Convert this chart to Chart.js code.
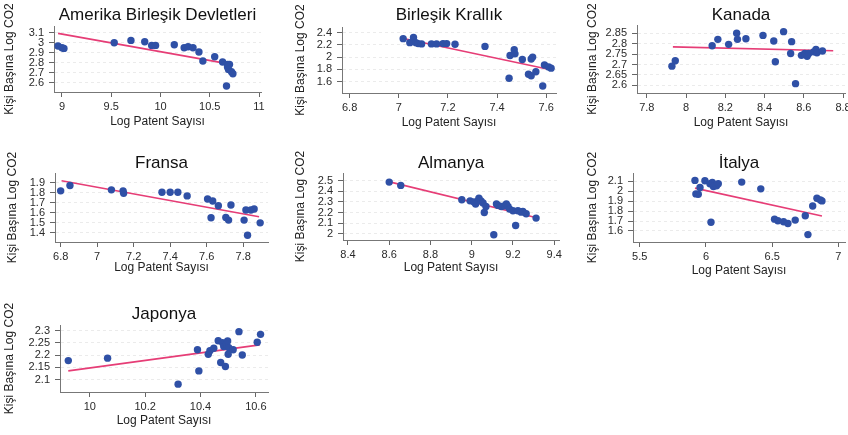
<!DOCTYPE html>
<html lang="tr">
<head>
<meta charset="utf-8">
<title>Log Patent Sayısı ve Kişi Başına Log CO2</title>
<script src="https://cdn.jsdelivr.net/npm/chart.js@4.4.1/dist/chart.umd.min.js"></script>
<style>
  html, body { margin: 0; padding: 0; background: #fff; }
  #wrap { position: relative; width: 848px; height: 435px; overflow: hidden; background: #fff; }
  #wrap canvas { position: absolute; }
</style>
</head>
<body>
<div id="wrap"></div>
<script>
// Values
const xTitle = 'Log Patent Sayısı';
const yTitle = 'Kişi Başına Log CO2';

// Amerika Birleşik Devletleri
const usaX = [8.96, 9.0, 9.02, 9.53, 9.70, 9.84, 9.91, 9.95, 10.14, 10.24, 10.28, 10.33, 10.39, 10.43, 10.55, 10.63, 10.68, 10.70, 10.68, 10.69, 10.72, 10.735, 10.67];
const usaY = [2.967, 2.95, 2.943, 3.0, 3.023, 3.01, 2.973, 2.973, 2.98, 2.95, 2.96, 2.95, 2.907, 2.817, 2.86, 2.807, 2.783, 2.783, 2.757, 2.733, 2.71, 2.69, 2.567];
const usaFitX = [8.96, 10.72];
const usaFitY = [3.093, 2.783];
const usaXTicks = [9, 9.5, 10, 10.5, 11];
const usaYTicks = [2.6, 2.7, 2.8, 2.9, 3, 3.1];

// Birleşik Krallık
const ukX = [7.018, 7.045, 7.06, 7.07, 7.079, 7.093, 7.133, 7.154, 7.18, 7.195, 7.229, 7.351, 7.449, 7.453, 7.47, 7.473, 7.503, 7.528, 7.539, 7.539, 7.545, 7.558, 7.586, 7.593, 7.61, 7.62];
const ukY = [2.30, 2.235, 2.32, 2.235, 2.22, 2.215, 2.215, 2.215, 2.22, 2.22, 2.21, 2.174, 1.656, 2.025, 2.12, 2.053, 1.96, 1.72, 1.695, 1.97, 2.0, 1.76, 1.53, 1.87, 1.84, 1.82];
const ukFitX = [7.01, 7.623];
const ukFitY = [2.31, 1.79];
const ukXTicks = [6.8, 7, 7.2, 7.4, 7.6];
const ukYTicks = [1.6, 1.8, 2, 2.2, 2.4];

// Kanada
const canX = [7.928, 7.945, 8.133, 8.162, 8.217, 8.258, 8.262, 8.305, 8.392, 8.447, 8.455, 8.497, 8.538, 8.533, 8.558, 8.588, 8.605, 8.617, 8.625, 8.65, 8.662, 8.667, 8.695];
const canY = [2.692, 2.718, 2.79, 2.821, 2.797, 2.85, 2.821, 2.824, 2.84, 2.813, 2.713, 2.858, 2.81, 2.753, 2.608, 2.744, 2.753, 2.74, 2.753, 2.761, 2.773, 2.756, 2.765];
const canFitX = [7.933, 8.75];
const canFitY = [2.785, 2.766];
const canXTicks = [7.8, 8, 8.2, 8.4, 8.6, 8.8];
const canYTicks = [2.6, 2.65, 2.7, 2.75, 2.8, 2.85];

// Fransa
const fraX = [6.80, 6.851, 7.078, 7.142, 7.145, 7.355, 7.40, 7.442, 7.493, 7.605, 7.633, 7.624, 7.664, 7.705, 7.72, 7.733, 7.805, 7.815, 7.824, 7.842, 7.86, 7.893];
const fraY = [1.817, 1.87, 1.827, 1.817, 1.793, 1.803, 1.803, 1.803, 1.767, 1.737, 1.717, 1.55, 1.67, 1.553, 1.527, 1.677, 1.527, 1.627, 1.377, 1.627, 1.637, 1.50];
const fraFitX = [6.805, 7.887];
const fraFitY = [1.917, 1.56];
const fraXTicks = [6.8, 7, 7.2, 7.4, 7.6, 7.8];
const fraYTicks = [1.4, 1.5, 1.6, 1.7, 1.8, 1.9];

// Almanya
const deuX = [8.6, 8.656, 8.952, 8.992, 9.011, 9.019, 9.032, 9.035, 9.045, 9.055, 9.061, 9.069, 9.107, 9.12, 9.128, 9.144, 9.16, 9.168, 9.176, 9.184, 9.2, 9.213, 9.224, 9.24, 9.248, 9.264, 9.312];
const deuY = [2.487, 2.456, 2.32, 2.31, 2.30, 2.28, 2.314, 2.336, 2.31, 2.29, 2.2, 2.257, 1.989, 2.28, 2.267, 2.257, 2.263, 2.28, 2.257, 2.232, 2.216, 2.077, 2.216, 2.203, 2.21, 2.188, 2.147];
const deuFitX = [8.592, 9.32];
const deuFitY = [2.494, 2.147];
const deuXTicks = [8.4, 8.6, 8.8, 9, 9.2, 9.4];
const deuYTicks = [2, 2.1, 2.2, 2.3, 2.4, 2.5];

// İtalya
const itaX = [5.917, 5.924, 5.942, 5.955, 5.992, 6.03, 6.038, 6.048, 6.056, 6.08, 6.093, 6.27, 6.414, 6.518, 6.543, 6.586, 6.619, 6.674, 6.75, 6.77, 6.806, 6.838, 6.864, 6.876];
const itaY = [2.11, 1.974, 1.97, 2.039, 2.107, 2.076, 1.688, 2.09, 2.049, 2.056, 2.076, 2.093, 2.025, 1.719, 1.702, 1.692, 1.675, 1.709, 1.753, 1.563, 1.852, 1.93, 1.913, 1.903];
const itaFitX = [5.917, 6.876];
const itaFitY = [2.032, 1.75];
const itaXTicks = [5.5, 6, 6.5, 7];
const itaYTicks = [1.6, 1.7, 1.8, 1.9, 2, 2.1];

// Japonya
const jpnX = [9.922, 10.064, 10.319, 10.389, 10.394, 10.428, 10.434, 10.448, 10.464, 10.473, 10.48, 10.484, 10.49, 10.494, 10.498, 10.502, 10.5, 10.518, 10.539, 10.551, 10.605, 10.617];
const jpnY = [2.178, 2.188, 2.082, 2.222, 2.136, 2.204, 2.218, 2.228, 2.259, 2.17, 2.251, 2.235, 2.154, 2.245, 2.258, 2.231, 2.204, 2.222, 2.296, 2.201, 2.253, 2.285];
const jpnFitX = [9.922, 10.614];
const jpnFitY = [2.136, 2.242];
const jpnXTicks = [10, 10.2, 10.4, 10.6];
const jpnYTicks = [2.1, 2.15, 2.2, 2.25, 2.3];

const FONT = '"Liberation Sans", Arial, sans-serif';
const DOT = '#2f50a6';
const FIT = '#e63d76';

// panel boxes: canvas offset/size, plot edges, title / axis-title centres (page pixels)
const panels = [
  { title: 'Amerika Birleşik Devletleri', xs: usaX, ys: usaY, fx: usaFitX, fy: usaFitY, xt: usaXTicks, yt: usaYTicks,
    xr: [8.919, 11.02], yr: [2.507, 3.167], ox: 0, oy: 0, w: 283, h: 140, L: 54, T: 26, R: 261, B: 92, ty: 15, xty: 122, ytx: 10 },
  { title: 'Birleşik Krallık', xs: ukX, ys: ukY, fx: ukFitX, fy: ukFitY, xt: ukXTicks, yt: ukYTicks,
    xr: [6.769, 7.64], yr: [1.415, 2.49], ox: 283, oy: 0, w: 282, h: 140, L: 342, T: 27, R: 556, B: 93, ty: 15, xty: 123, ytx: 301 },
  { title: 'Kanada', xs: canX, ys: canY, fx: canFitX, fy: canFitY, xt: canXTicks, yt: canYTicks,
    xr: [7.75, 8.81], yr: [2.563, 2.89], ox: 565, oy: 0, w: 300, h: 140, L: 637, T: 25, R: 845, B: 93, ty: 15, xty: 123, ytx: 593 },
  { title: 'Fransa', xs: fraX, ys: fraY, fx: fraFitX, fy: fraFitY, xt: fraXTicks, yt: fraYTicks,
    xr: [6.769, 7.936], yr: [1.31, 1.994], ox: 0, oy: 140, w: 283, h: 145, L: 55, T: 173, R: 268, B: 242, ty: 163, xty: 268, ytx: 13 },
  { title: 'Almanya', xs: deuX, ys: deuY, fx: deuFitX, fy: deuFitY, xt: deuXTicks, yt: deuYTicks,
    xr: [8.376, 9.424], yr: [1.94, 2.573], ox: 283, oy: 140, w: 282, h: 145, L: 343, T: 173, R: 562, B: 240, ty: 163, xty: 268, ytx: 301 },
  { title: 'İtalya', xs: itaX, ys: itaY, fx: itaFitX, fy: itaFitY, xt: itaXTicks, yt: itaYTicks,
    xr: [5.449, 7.05], yr: [1.488, 2.185], ox: 565, oy: 140, w: 300, h: 145, L: 633, T: 173, R: 845, B: 242, ty: 163, xty: 271, ytx: 593 },
  { title: 'Japonya', xs: jpnX, ys: jpnY, fx: jpnFitX, fy: jpnFitY, xt: jpnXTicks, yt: jpnYTicks,
    xr: [9.892, 10.644], yr: [2.05, 2.323], ox: 0, oy: 285, w: 283, h: 150, L: 60, T: 325, R: 268, B: 392, ty: 314, xty: 421, ytx: 10 }
];

function makePanel(p) {
  const cv = document.createElement('canvas');
  cv.width = p.w;
  cv.height = p.h;
  cv.style.left = p.ox + 'px';
  cv.style.top = p.oy + 'px';
  document.getElementById('wrap').appendChild(cv);

  const titleTop = p.ty - p.oy - 10.2;   // 17px font, lineHeight 1.2
  const titleBottom = p.T - p.oy - 20.4 - titleTop;

  new Chart(cv.getContext('2d'), {
    data: {
      datasets: [
        {
          type: 'scatter',
          data: p.xs.map((x, i) => ({ x: x, y: p.ys[i] })),
          backgroundColor: DOT,
          borderWidth: 0,
          pointRadius: 3.7
        },
        {
          type: 'line',
          data: p.fx.map((x, i) => ({ x: x, y: p.fy[i] })),
          borderColor: FIT,
          borderWidth: 1.6,
          pointRadius: 0,
          fill: false
        }
      ]
    },
    options: {
      responsive: false,
      animation: false,
      devicePixelRatio: 1,
      layout: { padding: { left: 0, top: 0, bottom: 0, right: p.ox + p.w - p.R } },
      plugins: {
        legend: { display: false },
        tooltip: { enabled: false },
        title: {
          display: true,
          text: p.title,
          fullSize: false,
          color: '#111',
          font: { family: FONT, size: 17, weight: 'normal', lineHeight: 1.2 },
          padding: { top: titleTop, bottom: titleBottom }
        }
      },
      scales: {
        x: {
          type: 'linear',
          position: 'bottom',
          min: p.xr[0],
          max: p.xr[1],
          afterBuildTicks: s => { s.ticks = p.xt.map(v => ({ value: v })); },
          afterFit: s => { s.height = p.oy + p.h - p.B; },
          ticks: {
            autoSkip: false, maxRotation: 0, minRotation: 0, padding: 3,
            color: '#2a2a2a', font: { family: FONT, size: 11 },
            callback: v => String(v)
          },
          grid: { drawOnChartArea: false, drawTicks: true, tickLength: 5, tickColor: '#666' },
          border: { display: true, color: '#777', width: 1 },
          title: {
            display: true, text: xTitle, color: '#222',
            font: { family: FONT, size: 12, lineHeight: 1.2 },
            padding: { top: 0, bottom: p.oy + p.h - p.xty - 7.2 }
          }
        },
        y: {
          type: 'linear',
          position: 'left',
          min: p.yr[0],
          max: p.yr[1],
          afterBuildTicks: s => { s.ticks = p.yt.map(v => ({ value: v })); },
          afterFit: s => { s.width = p.L - p.ox; },
          ticks: {
            autoSkip: false, padding: 5,
            color: '#2a2a2a', font: { family: FONT, size: 11 },
            callback: v => String(v)
          },
          grid: { color: '#ebebeb', drawTicks: true, tickLength: 5, tickColor: '#666' },
          border: { display: true, color: '#777', width: 1, dash: [3, 3] },
          title: {
            display: true, text: yTitle, color: '#222',
            font: { family: FONT, size: 12, lineHeight: 1.2 },
            padding: { top: p.ytx - p.ox - 7.2, bottom: 0 }
          }
        }
      }
    }
  });
}

panels.forEach(makePanel);
</script>
</body>
</html>
